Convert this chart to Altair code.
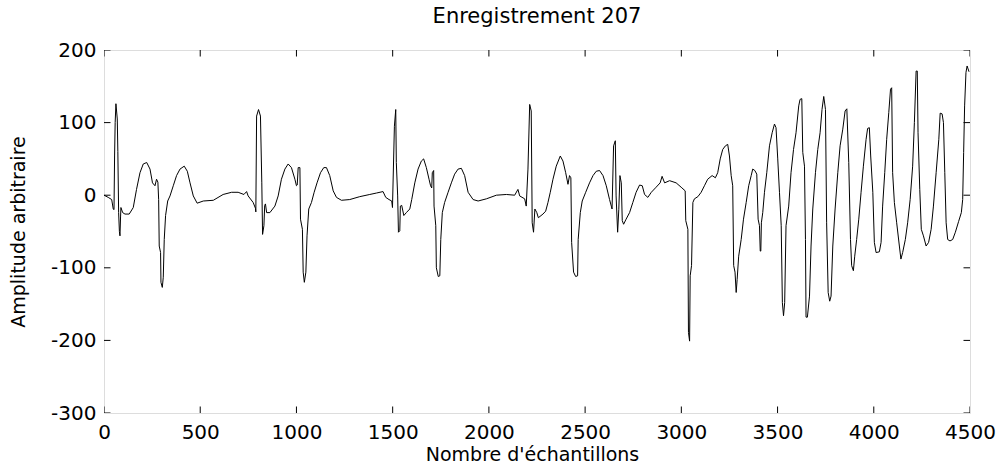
import altair as alt
import pandas as pd

# ECG samples (sample index, amplitude)
sample_idx = [0, 22, 40, 48, 52, 55, 58, 62, 69, 72, 76, 80, 83, 86, 88, 97, 109, 131, 152, 169, 187, 204, 222, 239, 252, 265, 273, 280, 284, 287, 294, 296, 303, 308, 313, 320, 331, 343, 360, 377, 395, 417, 433, 447, 464, 484, 516, 568, 619, 663, 697, 727, 741, 749, 775, 787, 789, 793, 803, 813, 820, 824, 831, 835, 839, 845, 862, 888, 905, 922, 940, 957, 974, 992, 1000, 1004, 1009, 1018, 1021, 1031, 1035, 1041, 1049, 1055, 1064, 1078, 1092, 1107, 1125, 1142, 1156, 1173, 1191, 1208, 1234, 1277, 1329, 1381, 1416, 1450, 1464, 1481, 1495, 1499, 1509, 1516, 1519, 1526, 1530, 1537, 1540, 1547, 1558, 1571, 1589, 1599, 1615, 1632, 1649, 1661, 1675, 1689, 1697, 1703, 1706, 1713, 1715, 1724, 1727, 1737, 1745, 1750, 1758, 1770, 1788, 1805, 1822, 1840, 1857, 1874, 1892, 1918, 1944, 1987, 2039, 2091, 2134, 2151, 2160, 2186, 2194, 2203, 2212, 2220, 2225, 2232, 2239, 2249, 2257, 2281, 2295, 2307, 2319, 2333, 2350, 2371, 2385, 2399, 2411, 2419, 2426, 2430, 2440, 2451, 2461, 2464, 2475, 2485, 2503, 2523, 2541, 2558, 2575, 2593, 2610, 2627, 2636, 2640, 2648, 2657, 2661, 2669, 2675, 2681, 2688, 2693, 2700, 2713, 2731, 2748, 2765, 2783, 2797, 2809, 2826, 2844, 2869, 2890, 2900, 2913, 2939, 2973, 2999, 3020, 3023, 3034, 3037, 3043, 3046, 3053, 3060, 3068, 3086, 3103, 3120, 3137, 3160, 3177, 3189, 3202, 3215, 3229, 3241, 3250, 3259, 3267, 3272, 3279, 3285, 3290, 3298, 3311, 3323, 3337, 3350, 3363, 3371, 3382, 3392, 3399, 3406, 3410, 3413, 3416, 3423, 3432, 3444, 3458, 3472, 3484, 3492, 3501, 3510, 3519, 3525, 3531, 3537, 3544, 3558, 3570, 3583, 3596, 3610, 3617, 3626, 3631, 3640, 3645, 3648, 3655, 3666, 3674, 3683, 3697, 3709, 3721, 3731, 3740, 3749, 3755, 3763, 3771, 3778, 3787, 3799, 3813, 3825, 3839, 3851, 3860, 3870, 3879, 3885, 3894, 3901, 3911, 3922, 3934, 3946, 3960, 3968, 3977, 3984, 3995, 4003, 4012, 4029, 4038, 4046, 4057, 4067, 4078, 4087, 4093, 4098, 4107, 4119, 4133, 4141, 4150, 4164, 4176, 4189, 4202, 4211, 4220, 4226, 4230, 4239, 4247, 4258, 4272, 4285, 4298, 4310, 4324, 4338, 4345, 4355, 4362, 4369, 4376, 4384, 4396, 4410, 4424, 4441, 4455, 4462, 4467, 4472, 4479, 4485, 4490, 4495]
amplitude = [0, -3, -6, -19, -20, 54, 100, 126, 105, 60, -24, -50, -56, -30, -17, -24, -26, -26, -17, 8, 31, 43, 45, 36, 17, 13, 22, 18, -6, -70, -79, -120, -127, -113, -61, -28, -8, -1, 13, 27, 36, 40, 33, 17, -1, -11, -8, -7, 1, 4, 4, 1, 5, -1, -10, -18, -23, 109, 118, 109, 17, -54, -42, -14, -12, -24, -24, -15, -1, 22, 36, 43, 38, 22, 13, 14, 38, 38, -33, -47, -106, -120, -106, -56, -19, -10, 4, 17, 31, 38, 38, 27, 6, -3, -7, -6, -2, 1, 3, 5, -3, -6, -8, -17, 95, 118, 45, -1, -51, -49, -15, -14, -28, -24, -19, -6, 17, 36, 47, 50, 38, 22, 13, 10, 31, 34, -15, -42, -100, -112, -111, -61, -24, -10, 4, 17, 29, 36, 37, 27, 4, -6, -8, -5, 0, 1, 0, 8, -1, -5, -15, 36, 125, 116, -38, -51, -19, -24, -31, -26, -22, -10, 4, 22, 40, 54, 47, 31, 15, 27, 24, -65, -106, -112, -111, -61, -24, -8, 4, 17, 27, 33, 34, 27, 13, -6, -15, -19, 68, 75, -1, -51, -20, 27, 17, -35, -40, -33, -24, -10, 4, 14, 13, 1, -3, 4, 11, 17, 26, 17, 20, 17, 11, 6, -35, -47, -189, -201, -111, -97, -10, -5, -2, 4, 13, 22, 27, 24, 31, 50, 63, 68, 70, 54, 27, 13, -97, -106, -134, -116, -84, -61, -33, -10, 13, 27, 36, 34, 29, -33, -42, -77, -77, -38, -24, 4, 31, 68, 86, 98, 93, 50, 4, -42, -148, -166, -148, -42, -15, 31, 63, 86, 123, 132, 133, 59, 40, -61, -168, -168, -139, -70, -19, 31, 63, 86, 118, 136, 118, -38, -134, -146, -139, -70, -19, 31, 68, 91, 116, 119, 45, -61, -97, -104, -84, -61, -33, 4, 40, 77, 92, 93, 54, 4, -65, -79, -78, -65, -15, 31, 77, 114, 146, 148, 31, -10, -38, -70, -88, -79, -61, -38, -6, 40, 100, 171, 171, 86, 8, -47, -56, -70, -65, -47, -15, 31, 77, 113, 112, 100, 31, -38, -61, -63, -61, -51, -36, -24, -6, 59, 123, 169, 178, 174, 170]

x_ticks = [0, 500, 1000, 1500, 2000, 2500, 3000, 3500, 4000, 4500]
y_ticks = [-300, -200, -100, 0, 100, 200]
x_domain = [0, 4500]
y_domain = [-300, 200]

FONT = "DejaVu Sans"

df = pd.DataFrame({"n": sample_idx, "amp": amplitude})

xs = alt.Scale(domain=x_domain, nice=False, zero=False)
ys = alt.Scale(domain=y_domain, nice=False, zero=False)

x_axis = alt.Axis(
    values=x_ticks, ticks=False, grid=False, domain=False,
    labelExpr="'' + datum.value",
    labelFont=FONT, labelFontSize=20, labelColor="black", labelPadding=9,
    title="Nombre d'échantillons", titleFont=FONT, titleFontSize=19,
    titleFontWeight="normal", titleColor="black",
    titleX=428, titleY=47, titleBaseline="alphabetic", titleAlign="center",
    labelFlush=False, labelOverlap=False,
)
y_axis = alt.Axis(
    values=y_ticks, ticks=False, grid=False, domain=False,
    labelExpr="'' + datum.value",
    labelFont=FONT, labelFontSize=20, labelColor="black", labelPadding=8,
    title="Amplitude arbitraire", titleFont=FONT, titleFontSize=19,
    titleFontWeight="normal", titleColor="black",
    titleX=-80, titleY=181.5, titleAngle=-90, titleBaseline="alphabetic",
    titleAlign="center", labelFlush=False, labelOverlap=False,
)

line = alt.Chart(df).mark_line(color="black", strokeWidth=1).encode(
    x=alt.X("n:Q", scale=xs, axis=x_axis),
    y=alt.Y("amp:Q", scale=ys, axis=y_axis),
)

xt_rows = [{"t": t, "edge": e} for t in x_ticks for e in y_domain]
yt_rows = [{"t": t, "edge": e} for t in y_ticks for e in x_domain]

xticks_layer = alt.Chart(pd.DataFrame(xt_rows)).mark_tick(
    orient="vertical", size=13, thickness=1, color="black", clip=True, opacity=1
).encode(
    x=alt.X("t:Q", scale=xs),
    y=alt.Y("edge:Q", scale=ys),
)
yticks_layer = alt.Chart(pd.DataFrame(yt_rows)).mark_tick(
    orient="horizontal", size=13, thickness=1, color="black", clip=True, opacity=1
).encode(
    x=alt.X("edge:Q", scale=xs),
    y=alt.Y("t:Q", scale=ys),
)

chart = alt.layer(line, xticks_layer, yticks_layer).properties(
    width=866,
    height=363,
    title=alt.TitleParams(
        "Enregistrement 207", font=FONT, fontSize=21, fontWeight="normal",
        color="black", anchor="middle", frame="group", offset=13,
    ),
    autosize=alt.AutoSizeParams(type="none"),
    padding={"left": 104, "top": 50, "right": 31, "bottom": 54},
).configure_view(
    stroke="black", strokeWidth=1
).configure(background="white")

chart.save("out.html", embed_options={"renderer": "svg", "actions": False})
